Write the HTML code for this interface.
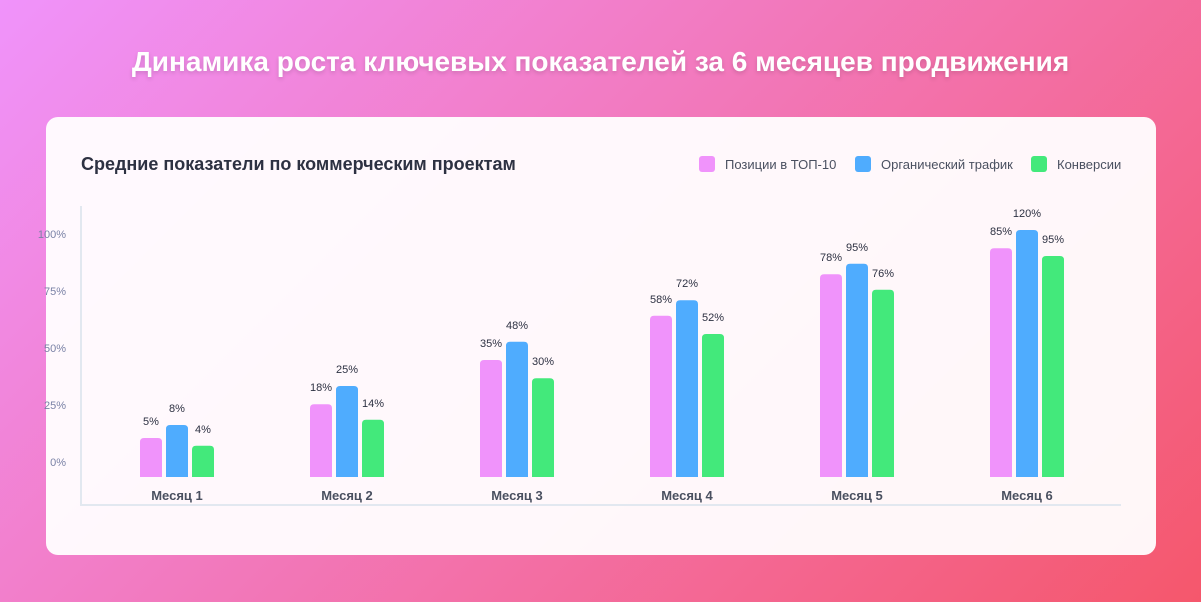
<!DOCTYPE html>
<html><head><meta charset="utf-8"><style>
*{margin:0;padding:0;box-sizing:border-box}
body{width:1201px;height:602px;overflow:hidden;font-family:"Liberation Sans","DejaVu Sans",sans-serif;background:linear-gradient(135deg,#f093fb 0%,#f5576c 100%);position:relative}
.title{position:absolute;top:46px;left:0;width:1201px;text-align:center;color:#fff;font-size:28px;font-weight:bold;text-shadow:0 2px 4px rgba(0,0,0,.15)}
.card{position:absolute;left:46px;top:117px;width:1110px;height:438px;background:rgba(255,255,255,.95);border-radius:12px}
.sub{position:absolute;left:35px;top:37px;font-size:18px;font-weight:bold;color:#2d3142}
.leg{position:absolute;top:39px;font-size:13px;color:#4a5060;display:flex;align-items:center}
.leg i{display:inline-block;width:16px;height:16px;border-radius:3px;margin-right:10px}
svg{position:absolute;left:0;top:0}
</style></head><body>
<div class="title">Динамика роста ключевых показателей за 6 месяцев продвижения</div>
<div class="card">
<div class="sub">Средние показатели по коммерческим проектам</div>
<div class="leg" style="left:653px"><i style="background:#f093fb"></i>Позиции в ТОП-10</div>
<div class="leg" style="left:809px"><i style="background:#4facfe"></i>Органический трафик</div>
<div class="leg" style="left:985px"><i style="background:#43e97b"></i>Конверсии</div>
</div>
<svg id="chart" width="1201" height="602"></svg>
<script>
const categories=["Месяц 1","Месяц 2","Месяц 3","Месяц 4","Месяц 5","Месяц 6"];
const positionsHeight=[15,28,45,62,78,88];
const trafficHeight=[20,35,52,68,82,95];
const conversionsHeight=[12,22,38,55,72,85];
const positionsLabels=["5%","18%","35%","58%","78%","85%"];
const trafficLabels=["8%","25%","48%","72%","95%","120%"];
const conversionsLabels=["4%","14%","30%","52%","76%","95%"];
const yTicks=["100%","75%","50%","25%","0%"];
const NS="http://www.w3.org/2000/svg";
const svg=document.getElementById('chart');
const base=477, plotH=260;
const y=v=>base-v/100*plotH;
const xc=i=>177+170*i;
function mk(t,a){const e=document.createElementNS(NS,t);for(const k in a)e.setAttribute(k,a[k]);svg.appendChild(e);return e;}
let ax=mk('line',{x1:81,y1:206,x2:81,y2:505,stroke:'#e2e8f0','stroke-width':2});


let bx=mk('line',{x1:80,y1:505,x2:1121,y2:505,stroke:'#e2e8f0','stroke-width':2});


yTicks.forEach((t,i)=>{const e=mk('text',{x:66,y:238+i*57,'text-anchor':'end','font-size':11,fill:'#7a82a6'});e.textContent=t;

});
const series=[[positionsHeight,positionsLabels,'#f093fb',-26,'positions'],[trafficHeight,trafficLabels,'#4facfe',0,'traffic'],[conversionsHeight,conversionsLabels,'#43e97b',26,'conversions']];
categories.forEach((c,i)=>{
 series.forEach(s=>{
  const h=s[0][i], cx=xc(i)+s[3], top=y(h);
  const r=mk('path',{d:`M${cx-11},${base}V${top+4}Q${cx-11},${top} ${cx-7},${top}H${cx+7}Q${cx+11},${top} ${cx+11},${top+4}V${base}Z`,fill:s[2]});
  
  
  const t=mk('text',{x:cx,y:top-13,'text-anchor':'middle','font-size':11,fill:'#2d3142'});t.textContent=s[1][i];
  
  
 });
 const l=mk('text',{x:xc(i),y:500,'text-anchor':'middle','font-size':13,'font-weight':'bold',fill:'#4a5060'});l.textContent=c;
 
 
});
</script>
</body></html>
